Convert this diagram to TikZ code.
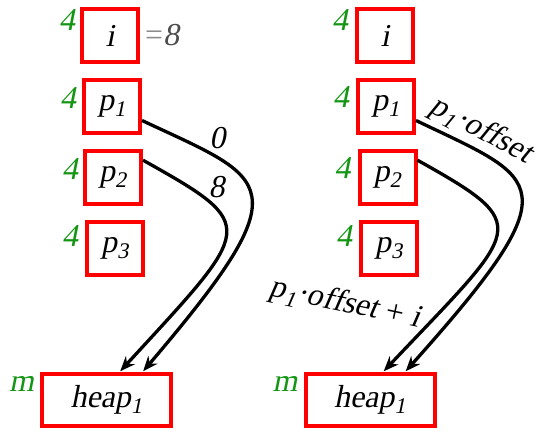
\documentclass[tikz,border=0pt]{standalone}
\usepackage{fontspec}
\setmainfont{Liberation Serif}
\newfontfamily\cellfamily[FakeSlant=0.2]{Liberation Serif}
\usepackage{tikz}
\usetikzlibrary{positioning, arrows.meta}
\usepackage{xcolor}
\definecolor{cellRed}{RGB}{255, 0, 0}
\definecolor{sizeGreen}{RGB}{20, 150, 20}
\newcommand{\cellfont}{\fontsize{32}{38}\selectfont\cellfamily}

\tikzset{
  cell/.style={draw=cellRed, line width=4bp, minimum width=56bp, minimum height=53bp, inner sep=0pt, font=\cellfont},
  heapcell/.style={cell, minimum width=129bp, minimum height=52bp},
  sizelbl/.style={text=sizeGreen, inner sep=0pt, font=\cellfont},
  ptr/.style={-{Stealth[length=15bp, width=12bp]}, line width=3.3bp, shorten >=1bp},
  offlbl/.style={inner sep=1bp, font=\cellfont}
}

\begin{document}
\begin{tikzpicture}[x=1bp, y=-1bp, node distance=14bp]
  \useasboundingbox (0,0) rectangle (543,432);

  % fixed offsets
  \node[cell] (iL) at (110,35.5) {i};
  \node[cell, below=of iL, xshift=2bp] (p1L) {p\textsubscript{1}};
  \node[cell, below=of p1L, xshift=1bp] (p2L) {p\textsubscript{2}};
  \node[cell, below=of p2L, xshift=2bp] (p3L) {p\textsubscript{3}};
  \node[heapcell] (heapL) at (106.5,400) {heap\textsubscript{1}};
  \node[right=5bp of iL, inner sep=0pt, font=\cellfont, text=black!70] (valL) {\textcolor{black!45}{\rmfamily=}8};
  \node[sizelbl, anchor=north east] (siL) at ([xshift=-5bp, yshift=-2bp]iL.north west) {4};
  \node[sizelbl, anchor=north east] (sp1L) at ([xshift=-6bp, yshift=-9bp]p1L.north west) {4};
  \node[sizelbl, anchor=north east] (sp2L) at ([xshift=-5bp, yshift=-9bp]p2L.north west) {4};
  \node[sizelbl, anchor=north east] (sp3L) at ([xshift=-7bp, yshift=-5bp]p3L.north west) {4};
  \node[sizelbl, anchor=north east] (smL) at ([xshift=-6bp, yshift=-4bp]heapL.north west) {m};
  \draw[ptr] (p1L.-25) .. controls +(128,60) and +(162,-190) .. node[pos=0.2, above right, offlbl]{0} ([xshift=36bp]heapL.north);
  \draw[ptr] (p2L.30) .. controls +(118,66) and +(134,-146) .. node[pos=0.25, above right, offlbl, xshift=-2bp]{8} ([xshift=13bp]heapL.north);

  % symbolic offsets
  \node[cell] (iR) at (385,35.5) {i};
  \node[cell, below=of iR, xshift=1bp] (p1R) {p\textsubscript{1}};
  \node[cell, below=of p1R, xshift=1.5bp] (p2R) {p\textsubscript{2}};
  \node[cell, below=of p2R, xshift=1.5bp] (p3R) {p\textsubscript{3}};
  \node[heapcell] (heapR) at (370,400) {heap\textsubscript{1}};
  \node[sizelbl, anchor=north east] (siR) at ([xshift=-7bp, yshift=-2bp]iR.north west) {4};
  \node[sizelbl, anchor=north east] (sp1R) at ([xshift=-7bp, yshift=-8bp]p1R.north west) {4};
  \node[sizelbl, anchor=north east] (sp2R) at ([xshift=-7bp, yshift=-8bp]p2R.north west) {4};
  \node[sizelbl, anchor=north east] (sp3R) at ([xshift=-7bp, yshift=-5bp]p3R.north west) {4};
  \node[sizelbl, anchor=north east] (smR) at ([xshift=-6bp, yshift=-4bp]heapR.north west) {m};
  \draw[ptr] (p1R.-25) .. controls +(125,60) and +(170,-190) .. node[pos=0.18, sloped, above, offlbl, yshift=2bp, xshift=-2bp]{p\textsubscript{1}·offset} ([xshift=35bp]heapR.north);
  \draw[ptr] (p2R.30) .. controls +(118,66) and +(138,-146) .. ([xshift=13bp]heapR.north);
  \node[offlbl, rotate=-12] (sumR) at (345,304) {p\textsubscript{1}·offset {\rmfamily+} i};
\end{tikzpicture}
\end{document}
